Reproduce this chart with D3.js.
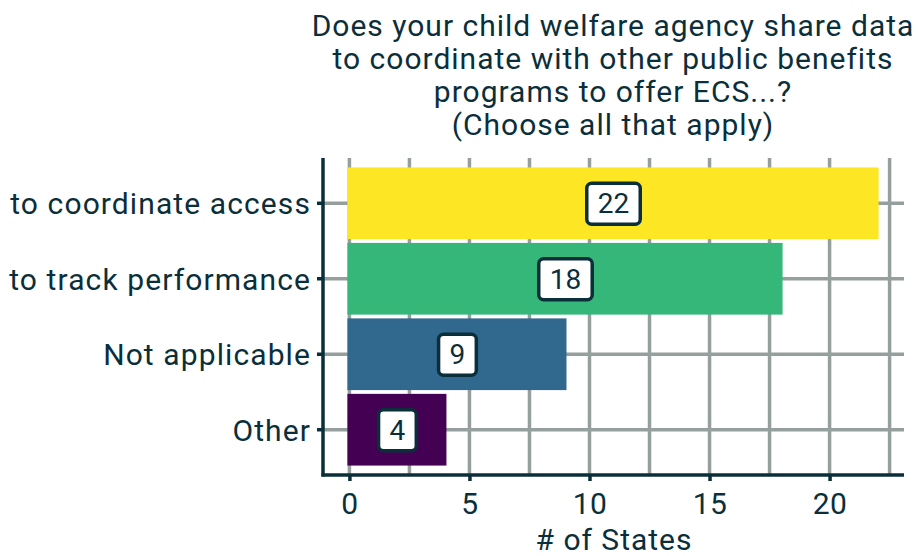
<!DOCTYPE html>
<html>
<head>
<meta charset="utf-8">
<script src="https://cdn.jsdelivr.net/npm/d3@7"></script>
<style>
  body { margin: 0; background: #fff; }
  text { font-family: Roboto, "Noto Sans", sans-serif; fill: #0b2f3a; }
</style>
</head>
<body>
<div id="chartDiv"></div>
<script>
// data
var categories = ["to coordinate access", "to track performance", "Not applicable", "Other"];
var values = [22, 18, 9, 4];
var barColors = ["#fde725", "#35b779", "#31688e", "#440154"];
var xTicks = [0, 5, 10, 15, 20];
var xGrid = [0, 2.5, 5, 7.5, 10, 12.5, 15, 17.5, 20, 22.5];
var titleLines = ["Does your child welfare agency share data",
                  "to coordinate with other public benefits",
                  "programs to offer ECS...?",
                  "(Choose all that apply)"];

var ink = "#0b2f3a";
var gridCol = "#95a09e";

var svg = d3.select("#chartDiv").append("svg")
    .attr("width", 918)
    .attr("height", 556);

var plot = {left: 323, right: 904, top: 158, bottom: 475};

var x_scale = d3.scaleLinear()
    .domain([-1.1, 23.1])
    .range([plot.left, plot.right]);

var y_scale = d3.scaleBand()
    .domain(categories)
    .range([plot.top, plot.bottom])
    .paddingInner(0.05)
    .paddingOuter(0.125);

// grid
var grid = svg.append("g");
grid.selectAll(".vgrid").data(xGrid).enter().append("line")
    .attr("x1", function(d){ return x_scale(d); })
    .attr("x2", function(d){ return x_scale(d); })
    .attr("y1", plot.top)
    .attr("y2", plot.bottom)
    .attr("stroke", gridCol)
    .attr("stroke-width", 3.5);
grid.selectAll(".hgrid").data(categories).enter().append("line")
    .attr("x1", plot.left)
    .attr("x2", plot.right)
    .attr("y1", function(d){ return y_scale(d) + y_scale.bandwidth() / 2; })
    .attr("y2", function(d){ return y_scale(d) + y_scale.bandwidth() / 2; })
    .attr("stroke", gridCol)
    .attr("stroke-width", 3.5);

// bars
var rows = categories.map(function(c, i){ return {cat: c, val: values[i], col: barColors[i]}; });

svg.append("g").selectAll("rect").data(rows).enter().append("rect")
    .attr("x", x_scale(0) - 2)
    .attr("y", function(d){ return y_scale(d.cat); })
    .attr("width", function(d){ return x_scale(d.val) - x_scale(0) + 3; })
    .attr("height", y_scale.bandwidth())
    .attr("fill", function(d){ return d.col; });

// value labels
var labels = svg.append("g").selectAll("g").data(rows).enter().append("g")
    .attr("transform", function(d){
      return "translate(" + x_scale(d.val / 2) + "," + (y_scale(d.cat) + y_scale.bandwidth() / 2) + ")";
    });
labels.append("rect").attr("class", "lblbox");
labels.append("text")
    .attr("text-anchor", "middle")
    .attr("dy", "0.36em")
    .style("font-size", "28px")
    .text(function(d){ return d.val; });
labels.each(function(){
  var g = d3.select(this);
  var w = g.select("text").node().getComputedTextLength();
  g.select("rect")
    .attr("x", -w / 2 - 11)
    .attr("y", -20)
    .attr("width", w + 22)
    .attr("height", 41)
    .attr("rx", 5)
    .attr("fill", "#fff")
    .attr("stroke", ink)
    .attr("stroke-width", 3.5);
});

// axes
var yAxis = d3.axisLeft(y_scale).tickSize(6).tickPadding(6);
var xAxis = d3.axisBottom(x_scale).tickValues(xTicks).tickSize(6).tickPadding(12);

var yGroup = svg.append("g")
    .attr("transform", "translate(" + plot.left + ",0)")
    .call(yAxis);
var xGroup = svg.append("g")
    .attr("transform", "translate(0," + plot.bottom + ")")
    .call(xAxis);

[yGroup, xGroup].forEach(function(g){
  g.select(".domain").remove();
  g.selectAll(".tick line").attr("stroke", ink).attr("stroke-width", 3.5);
  g.selectAll(".tick text").attr("fill", ink);
  g.attr("font-family", null);
});
yGroup.selectAll(".tick text")
    .style("font-size", "30px")
    .style("letter-spacing", "1.1px")
    .attr("dy", "0.36em");
xGroup.selectAll(".tick text")
    .style("font-size", "30px")
    .style("letter-spacing", "0.5px")
    .attr("dy", "0.71em");

svg.append("line")
    .attr("x1", plot.left).attr("x2", plot.left)
    .attr("y1", plot.top).attr("y2", plot.bottom + 1.5)
    .attr("stroke", ink).attr("stroke-width", 3.5);
svg.append("line")
    .attr("x1", plot.left - 1.5).attr("x2", plot.right)
    .attr("y1", plot.bottom).attr("y2", plot.bottom)
    .attr("stroke", ink).attr("stroke-width", 3.5);

// axis title
svg.append("text")
    .attr("x", 614)
    .attr("y", 550)
    .attr("text-anchor", "middle")
    .style("font-size", "30px")
    .style("letter-spacing", "1px")
    .text("# of States");

// title
svg.append("g").selectAll("text").data(titleLines).enter().append("text")
    .attr("x", 613)
    .attr("y", function(d, i){ return 36 + i * 33; })
    .attr("text-anchor", "middle")
    .style("font-size", "30px")
    .style("letter-spacing", "1px")
    .text(function(d){ return d; });
</script>
</body>
</html>
